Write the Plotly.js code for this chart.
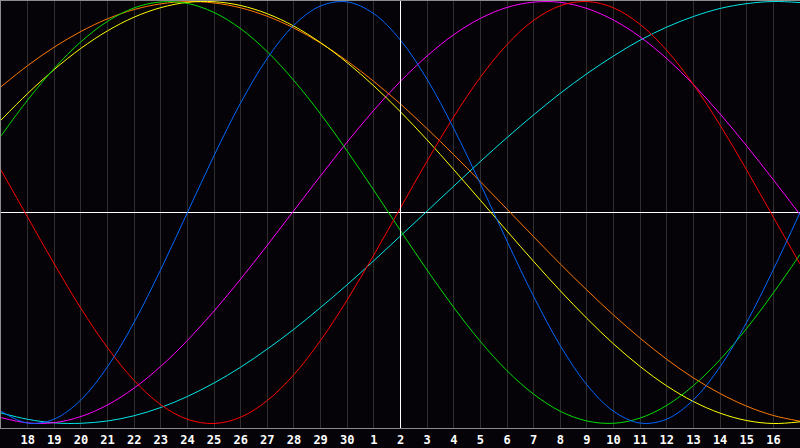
<!DOCTYPE html>
<html>
<head>
<meta charset="utf-8">
<script src="https://cdn.plot.ly/plotly-3.0.1.min.js"></script>
<style>
html,body{margin:0;padding:0;background:#050308;}
#chart{width:800px;height:448px;}
</style>
</head>
<body>
<div id="chart"></div>
<script>
// day positions 0..30 (x=0 is the 17th, 30-day month, then the 17th of the next)
const days = [0,1,2,3,4,5,6,7,8,9,10,11,12,13,14,15,16,17,18,19,20,21,22,23,24,25,26,27,28,29,30];
const tickPos = [1,2,3,4,5,6,7,8,9,10,11,12,13,14,15,16,17,18,19,20,21,22,23,24,25,26,27,28,29];
const tickLabels = ["18","19","20","21","22","23","24","25","26","27","28","29","30","1","2","3","4","5","6","7","8","9","10","11","12","13","14","15","16"];
const todayPos = 15;

// values in percent
const red     = [20.1,-2.2,-24.4,-45.4,-64.1,-79.6,-91.1,-98.0,-100.0,-97.0,-89.1,-76.8,-60.6,-41.4,-20.1,2.2,24.4,45.4,64.1,79.6,91.1,98.0,100.0,97.0,89.1,76.8,60.6,41.4,20.1,-2.2,-24.4];
const blue    = [-94.2,-99.8,-97.9,-88.8,-73.1,-52.0,-27.0,0,27.0,52.0,73.1,88.8,97.9,99.8,94.2,81.7,63.1,39.8,13.6,-13.6,-39.8,-63.1,-81.7,-94.2,-99.8,-97.9,-88.8,-73.1,-52.0,-27.0,0];
const green   = [36.3,53.3,68.3,80.9,90.6,97.0,99.8,99.1,94.8,87.1,76.2,62.5,46.7,29.1,10.5,-8.6,-27.3,-45.0,-61.1,-75.0,-86.1,-94.2,-98.8,-99.9,-97.4,-91.4,-82.0,-69.7,-54.9,-38.1,-19.9];
const cyan    = [-95.0,-98.0,-99.7,-99.9,-98.8,-96.3,-92.4,-87.2,-80.8,-73.3,-64.7,-55.3,-45.0,-34.2,-22.8,-11.1,0.7,12.5,24.2,35.5,46.3,56.5,65.8,74.2,81.7,87.9,92.9,96.7,99.0,100.0,99.5];
const magenta = [-97.2,-99.7,-99.6,-96.7,-91.2,-83.2,-72.9,-60.6,-46.7,-31.5,-15.5,1.0,17.4,33.4,48.5,62.2,74.2,84.3,92.0,97.2,99.7,99.6,96.7,91.2,83.2,72.9,60.6,46.7,31.5,15.5,-1.0];
const yellow  = [43.8,56.4,67.8,77.8,86.1,92.6,97.1,99.6,99.9,98.1,94.2,88.3,80.5,71.0,60.0,47.7,34.4,20.3,5.8,-8.8,-23.2,-37.1,-50.2,-62.3,-73.0,-82.2,-89.6,-95.1,-98.6,-100.0,-99.2];
const orange  = [59.6,69.6,78.4,85.8,91.8,96.2,98.9,100.0,99.3,97.0,93.0,87.4,80.3,71.8,62.1,51.4,39.7,27.4,14.6,1.6,-11.5,-24.4,-36.8,-48.6,-59.6,-69.6,-78.4,-85.8,-91.8,-96.2,-98.9];

const series = [
  {name:"Spiritual", y:cyan, color:"#00e6e6"},
  {name:"Intuitive", y:magenta, color:"#ff00ff"},
  {name:"Awareness", y:orange, color:"#ff7800"},
  {name:"Aesthetic", y:yellow, color:"#ffff00"},
  {name:"Intellectual", y:green, color:"#00dd00"},
  {name:"Emotional", y:red, color:"#ff0000"},
  {name:"Physical", y:blue, color:"#0066ff"}
];

const traces = series.map(s => ({
  type:"scatter", mode:"lines", x:days, y:s.y, name:s.name,
  line:{color:s.color, width:1, shape:"spline", smoothing:1},
  hoverinfo:"skip"
}));

const layout = {
  width:800, height:448,
  margin:{l:1, r:0, t:1, b:20, pad:0},
  paper_bgcolor:"#050308",
  plot_bgcolor:"#050308",
  showlegend:false,
  xaxis:{
    range:[0,30], tickmode:"array", tickvals:tickPos, ticktext:tickLabels,
    showgrid:true, gridcolor:"#2e2e2e", gridwidth:1, zeroline:false,
    showline:true, linecolor:"#8c8c8c", linewidth:1, mirror:true,
    ticks:"", ticklabelstandoff:1,
    tickfont:{family:"DejaVu Sans Mono", size:12, color:"#ffffff", weight:"bold"},
    fixedrange:true
  },
  yaxis:{
    range:[-102.13,100.24], showticklabels:false, showgrid:false,
    zeroline:true, zerolinecolor:"#ffffff", zerolinewidth:1,
    showline:true, linecolor:"#8c8c8c", linewidth:1, mirror:true,
    ticks:"", fixedrange:true
  },
  shapes:[
    {type:"line", xref:"x", yref:"y", x0:todayPos, x1:todayPos, y0:-102.13, y1:100.24,
     line:{color:"#ffffff", width:1}, layer:"above"}
  ]
};

Plotly.newPlot("chart", traces, layout, {staticPlot:true, displayModeBar:false});
</script>
</body>
</html>
